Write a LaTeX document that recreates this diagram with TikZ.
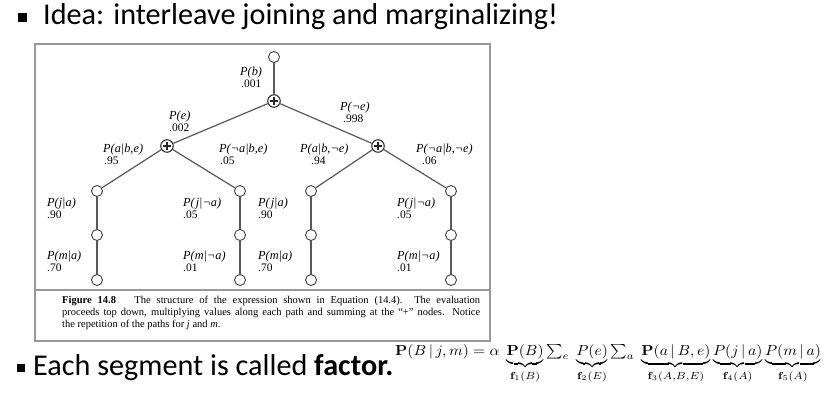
\documentclass[tikz,border=0pt]{standalone}
\usepackage[no-math]{fontspec}
\usepackage{graphicx}
\setmainfont{Carlito}
\newfontfamily\figfont{Liberation Serif}
\tikzset{
  leaf/.style={circle, draw=black!75, line width=0.9pt, fill=white, minimum size=11pt, inner sep=0pt},
  plusnode/.style={circle, draw=black!80, line width=1.1pt, fill=white, minimum size=12.5pt, inner sep=0pt,
    path picture={
      \draw[line width=1.4pt,black!85] ([xshift=-3.6pt]path picture bounding box.center) -- ([xshift=3.6pt]path picture bounding box.center);
      \draw[line width=1.4pt,black!85] ([yshift=-3.6pt]path picture bounding box.center) -- ([yshift=3.6pt]path picture bounding box.center);}},
  edgeline/.style={draw=black!65, line width=1.2pt},
  lab/.style={font=\figfont\fontsize{12.3}{13}\selectfont\itshape, anchor=west, inner sep=0pt},
  num/.style={font=\figfont\fontsize{11.5}{13}\selectfont, anchor=west, inner sep=0pt},
  captext/.style={font=\figfont\fontsize{10.5}{12}\selectfont, anchor=west, inner sep=0pt},
  big/.style={font=\fontsize{30.2}{35}\selectfont, anchor=base west, inner sep=0pt},
  framestyle/.style={draw=black!40, line width=1.2pt},
}
\begin{document}
\begin{tikzpicture}[x=1pt,y=-1pt]
\useasboundingbox[fill=white] (0,0) rectangle (840,413);

% title
\fill (18,13) rectangle (27,22);
\node[big] (title) at (43,24.5) {Idea: interleave joining and marginalizing!};

% frame
\draw[framestyle] (35,44) rectangle (490,341);
\draw[framestyle] (35,290) -- (490,290);

% tree nodes
\node[leaf] (root) at (274,57) {};
\node[plusnode] (p0) at (274,101) {};
\node[plusnode] (pl) at (167,146) {};
\node[plusnode] (pr) at (378,146) {};
\foreach \n/\x in {1/97,2/240,3/311,4/451}{
  \node[leaf] (j\n) at (\x,191) {};
  \node[leaf] (m\n) at (\x,235) {};
  \node[leaf] (e\n) at (\x,280) {};
}
\draw[edgeline] (root) -- (p0);
\draw[edgeline] (p0) -- (pl);
\draw[edgeline] (p0) -- (pr);
\draw[edgeline] (pl) -- (j1);
\draw[edgeline] (pl) -- (j2);
\draw[edgeline] (pr) -- (j3);
\draw[edgeline] (pr) -- (j4);
\foreach \n in {1,2,3,4}{
  \draw[edgeline] (j\n) -- (m\n);
  \draw[edgeline] (m\n) -- (e\n);
}

% labels
\node[lab] (lb) at (240,73) {P(b)};
\node[num] (vb) at (241,84) {.001};
\node[lab] (le) at (169,117) {P(e)};
\node[num] (ve) at (169,128) {.002};
\node[lab] (lne) at (340,108) {P(¬e)};
\node[num] (vne) at (343,119) {.998};
\node[lab] (la1) at (103,150) {P(a|b,e)};
\node[num] (va1) at (104,161) {.95};
\node[lab] (la2) at (219,150) {P(¬a|b,e)};
\node[num] (va2) at (220,161) {.05};
\node[lab] (la3) at (300,150) {P(a|b,¬e)};
\node[num] (va3) at (311,161) {.94};
\node[lab] (la4) at (416,150) {P(¬a|b,¬e)};
\node[num] (va4) at (422,161) {.06};

\node[lab] (lj1) at (47,204) {P(j|a)};
\node[num] (vj1) at (47,215) {.90};
\node[lab] (lm1) at (47,257) {P(m|a)};
\node[num] (vm1) at (47,268) {.70};
\node[lab] (lj2) at (183,204) {P(\kern1pt j|¬a)};
\node[num] (vj2) at (183,215) {.05};
\node[lab] (lm2) at (183,257) {P(m|¬a)};
\node[num] (vm2) at (183,268) {.01};
\node[lab] (lj3) at (258,204) {P(\kern1pt j|a)};
\node[num] (vj3) at (258,215) {.90};
\node[lab] (lm3) at (258,257) {P(m|a)};
\node[num] (vm3) at (258,268) {.70};
\node[lab] (lj4) at (397,204) {P(\kern1pt j|¬a)};
\node[num] (vj4) at (397,215) {.05};
\node[lab] (lm4) at (397,257) {P(m|¬a)};
\node[num] (vm4) at (397,268) {.01};

% caption
\node[captext] (c1) at (62,301) {\makebox[418pt][s]{\textbf{Figure 14.8}\hspace{1.2em} The structure of the expression shown in Equation (14.4).\ \ The evaluation}};
\node[captext] (c2) at (62,313) {\makebox[418pt][s]{proceeds top down, multiplying values along each path and summing at the “+” nodes. Notice}};
\node[captext] (c3) at (62,325) {the repetition of the paths for \textit{j} and \textit{m}.};

% bottom bullet
\fill (17,364) rectangle (25,372);
\node[big] (fact) at (33,375) {Each segment is called \textbf{factor.}};

% formula
\node[anchor=base west, inner sep=0pt] (formula) at (395,355) {\scalebox{1.56}[1.45]{$\mathbf{P}(B\,|\,j,m) = \alpha\;\underbrace{\mathbf{P}(B)}_{\mathbf{f}_1(B)}\sum_e\;\underbrace{P(e)}_{\mathbf{f}_2(E)}\sum_a\;\underbrace{\mathbf{P}(a\,|\,B,e)}_{\mathbf{f}_3(A,B,E)}\underbrace{P(j\,|\,a)}_{\mathbf{f}_4(A)}\underbrace{P(m\,|\,a)}_{\mathbf{f}_5(A)}$}};
\end{tikzpicture}
\end{document}
